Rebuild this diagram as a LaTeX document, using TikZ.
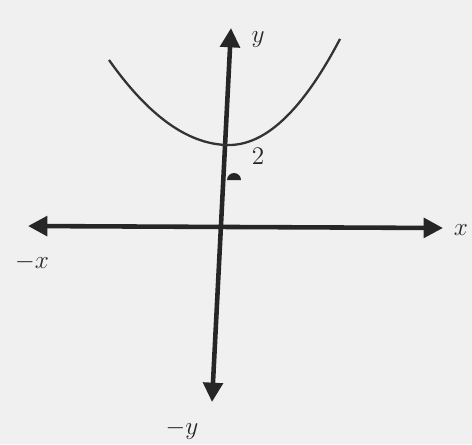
\documentclass[tikz,border=0pt]{standalone}
\usepackage{tikz}
\usetikzlibrary{calc,arrows.meta}

\begin{document}
\begin{tikzpicture}[x=0.02cm, y=-0.02cm, >={Triangle[length=11pt,width=11pt]},
    axis/.style={line width=2.6pt, black!85},
    curve/.style={line width=1.3pt, black!80},
    lbl/.style={font=\Large, text=black!85}]
        \useasboundingbox[fill=black!6] (0,0) rectangle (472,444);

        % Axis end points
        \coordinate (xl) at (28,226);
        \coordinate (xr) at (443,228);
        \coordinate (yt) at (231,28);
        \coordinate (yb) at (212,402);

        % Axes
        \draw[axis, <->] (xl) -- (xr);
        \draw[axis, <->] (yb) -- (yt);

        % Parabola, vertex at (0,2)
        \coordinate (vertex) at (229,145);
        \draw[curve] plot[smooth, domain=-120:0, samples=30]
            ({229+\x}, {145-0.0059*\x*\x});
        \draw[curve] plot[smooth, domain=0:111, samples=30]
            ({229+\x}, {145-0.0086*\x*\x});

        % Small mark on the y axis
        \fill[black!85] (227,180) -- (241,180) arc (0:-180:7) -- cycle;

        % Labels
        \node[lbl] (ylab) at (258,40) {$y$};
        \node[lbl] (xlab) at (461,230) {$x$};
        \node[lbl] (nxlab) at (32,262) {$-x$};
        \node[lbl] (nylab) at (182,430) {$-y$};
        \node[lbl] (two) at (258,156) {$2$};
    \end{tikzpicture}
\end{document}
